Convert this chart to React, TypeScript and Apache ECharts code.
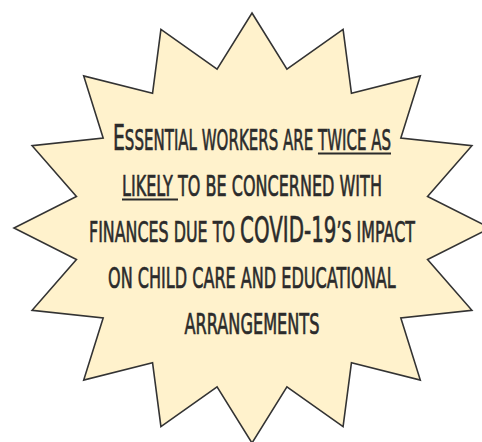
import React, { useEffect, useRef } from "react";
import * as echarts from "echarts";

// Text content of the callout, split into segments (big = full capital, u = underlined)
const LINE1 = [
  { t: "E", big: true },
  { t: "SSENTIAL WORKERS ARE " },
  { t: "TWICE AS", u: true },
];
const LINE2 = [{ t: "LIKELY ", u: true }, { t: "TO BE CONCERNED WITH" }];
const LINE3 = [
  { t: "FINANCES DUE TO " },
  { t: "COVID-19", big: true },
  { t: "\u2019S IMPACT" },
];
const LINE4 = [{ t: "ON CHILD CARE AND EDUCATIONAL" }];
const LINE5 = [{ t: "ARRANGEMENTS" }];
const LINES = [LINE1, LINE2, LINE3, LINE4, LINE5];

// Layout (not data)
const CX = 252;
const CY = 228;
const OUTER = [238, 215];
const INNER = [179, 162];
const POINTS = 16;
const BASELINES = [150, 196, 242, 288, 334];
const WIDTHS = [278, 260, 326, 288, 135];
const SMALL = 28;
const BIG = 35;
const FAMILY = "'DejaVu Sans', sans-serif";
const WEIGHT = "normal";
const INK = "#2b2b2b";

function starPoints() {
  const pts: number[][] = [];
  for (let i = 0; i < POINTS * 2; i++) {
    const a = (i * Math.PI) / POINTS;
    const r = i % 2 === 0 ? OUTER : INNER;
    pts.push([CX + r[0] * Math.sin(a), CY - r[1] * Math.cos(a)]);
  }
  return pts;
}

export default function App() {
  const ref = useRef<HTMLDivElement>(null);
  useEffect(() => {
    if (!ref.current) return;
    const chart = echarts.init(ref.current, null, { renderer: "svg" });
    const ctx = document.createElement("canvas").getContext("2d")!;
    const measure = (t: string, size: number) => {
      ctx.font = `${WEIGHT} ${size}px ${FAMILY}`;
      return ctx.measureText(t).width;
    };
    const elements: any[] = [
      {
        type: "polygon",
        shape: { points: starPoints() },
        style: { fill: "#fff2cc", stroke: "#333333", lineWidth: 1.6 },
        z: 1,
      },
    ];
    LINES.forEach((line, li) => {
      const widths = line.map((s: any) => measure(s.t, s.big ? BIG : SMALL));
      const total = widths.reduce((a, b) => a + b, 0);
      const sc = WIDTHS[li] / total;
      let x = CX - WIDTHS[li] / 2;
      const base = BASELINES[li];
      line.forEach((s: any, si) => {
        const size = s.big ? BIG : SMALL;
        elements.push({
          type: "text",
          x,
          y: base - 0.34 * size,
          scaleX: sc,
          z: 2,
          style: {
            text: s.t,
            font: `${WEIGHT} ${size}px ${FAMILY}`,
            fill: INK,
            stroke: INK,
            lineWidth: 0.7,
            textAlign: "left",
            textVerticalAlign: "middle",
          },
        });
        const w = widths[si] * sc;
        if (s.u) {
          elements.push({
            type: "line",
            z: 2,
            shape: { x1: x, y1: base + 3.5, x2: x + w, y2: base + 3.5 },
            style: { stroke: INK, lineWidth: 2 },
          });
        }
        x += w;
      });
    });
    chart.setOption({
      animation: false,
      backgroundColor: "#ffffff",
      graphic: { elements },
    });
    return () => chart.dispose();
  }, []);
  return (
    <div
      ref={ref}
      style={{ position: "fixed", left: 0, top: 0, width: 482, height: 442 }}
    />
  );
}
